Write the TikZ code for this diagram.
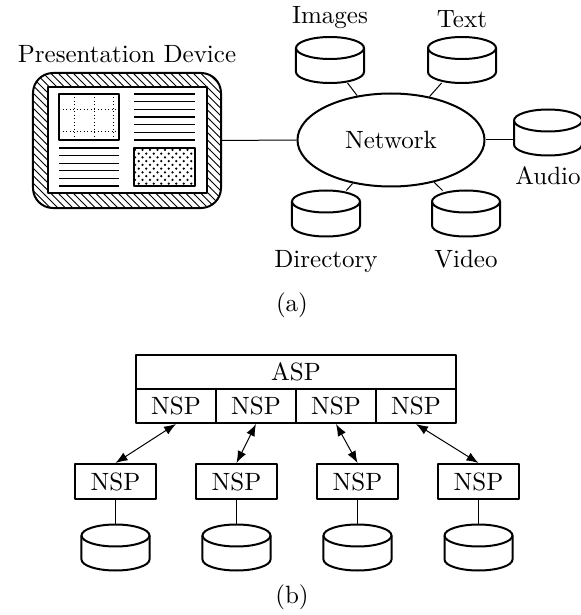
\documentclass[tikz,border=0pt]{standalone}
\usetikzlibrary{shapes.geometric,patterns,arrows.meta}
\begin{document}
\begin{tikzpicture}[x=0.4pt, y=0.4pt, line join=round, >={Latex[length=4.8pt,width=3.6pt]},
  db/.style={rectangle, inner sep=0pt, outer sep=0pt, minimum width=27.2pt, minimum height=18.4pt},
  box/.style={draw, thick, inner sep=0pt, minimum width=32pt, minimum height=13.6pt},
  txtline/.style={line width=0.5pt}]
\def\drawdb#1{
  \draw[thick, fill=white] ([shift={(-13.6pt,4.8pt)}]#1.center) -- ++(0pt,-9.6pt)
    arc[start angle=180, end angle=360, x radius=13.6pt, y radius=4.4pt] -- ++(0pt,9.6pt)
    arc[start angle=0, end angle=180, x radius=13.6pt, y radius=4.4pt] -- cycle;
  \draw[thick] ([shift={(13.6pt,4.8pt)}]#1.center) arc[start angle=0, end angle=-180, x radius=13.6pt, y radius=4.4pt];}
\useasboundingbox (0,0) rectangle (581,615);
% (a) presentation device
\fill[pattern=north west lines, even odd rule, rounded corners=8pt] (33,542) rectangle (221,407) [sharp corners] (48,528) rectangle (207,422);
\node[draw, thick, rounded corners=8pt, minimum width=75.2pt, minimum height=54pt, label={above:Presentation Device}] (pd) at (127,474.5) {};
\draw[thick] (48,528) rectangle (207,422);
\draw[semithick] (59,521) rectangle (119,475);
\foreach \gx in {74,94,113}{\draw[densely dotted, thin] (\gx,521) -- (\gx,475);}
\foreach \gy in {505,483}{\draw[densely dotted, thin] (59,\gy) -- (119,\gy);}
\foreach \i in {0,...,6}{\draw[txtline] (134,{521-7.67*\i}) -- (195,{521-7.67*\i});}
\foreach \i in {0,...,5}{\draw[txtline] (59,{467-7.6*\i}) -- (119,{467-7.6*\i});}
\draw[semithick, pattern=crosshatch dots] (134,467) rectangle (195,429);
% network and sources
\node[ellipse, draw, thick, minimum width=74.8pt, minimum height=37.2pt] (net) at (391,475) {Network};
\node[db, label={above:Images}] (img) at (330,555) {};
\node[db, label={above:Text}] (txt) at (462,555) {};
\node[db, label={[label distance=1pt]below:Audio}] (aud) at (548,482.5) {};
\node[db, label={[label distance=2pt]below:Directory}] (dir) at (326,401.5) {};
\node[db, label={[label distance=2pt]below:Video}] (vid) at (466,401.5) {};
\foreach \d in {img,txt,dir,vid}{\drawdb{\d} \draw (net) -- (\d);}
\drawdb{aud}
\draw (net.east) -- (aud.west |- net.east);
\draw (pd) -- (net);
\node (capa) at (292,310) {(a)};
% (b) ASP / NSP
\node[draw, thick, inner sep=0pt, minimum width=128pt, minimum height=13.6pt] (asp) at (296,243) {ASP};
\foreach \i in {1,...,4}{
  \node[box] (top\i) at ({96+80*\i},209) {NSP};
  \node[box, minimum width=32.4pt, minimum height=14pt] (nsp\i) at ({-5.5+121*\i},133.5) {NSP};
  \node[db] (st\i) at ({-5.5+121*\i},67.5) {};
  \drawdb{st\i}
  \draw (nsp\i) -- (st\i);
  \draw[<->] (top\i.south) -- (nsp\i.north);
}
\node (capb) at (292,18) {(b)};
\end{tikzpicture}
\end{document}
